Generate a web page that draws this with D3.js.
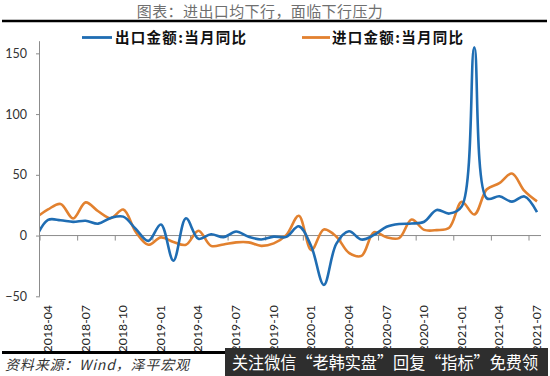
<!DOCTYPE html>
<html>
<head>
<meta charset="utf-8">
<script src="https://cdn.jsdelivr.net/npm/d3@7"></script>
<style>
  html, body { margin: 0; padding: 0; background: #fff; }
  svg { display: block; }
</style>
</head>
<body>
<div id="chart"></div>
<script>
// ── Data ─────────────────────────────────────────────────────────────
const months = [
  '2018-03','2018-04','2018-05','2018-06','2018-07','2018-08','2018-09','2018-10','2018-11','2018-12',
  '2019-01','2019-02','2019-03','2019-04','2019-05','2019-06','2019-07','2019-08','2019-09','2019-10','2019-11','2019-12',
  '2020-01','2020-02','2020-03','2020-04','2020-05','2020-06','2020-07','2020-08','2020-09','2020-10','2020-11','2020-12',
  '2021-01','2021-02','2021-03','2021-04','2021-05','2021-06','2021-07'
];
const exportYoY = [
  -2.7, 12.9, 12.6, 11.3, 12.2, 9.8, 14.5, 15.6, 5.4, -4.4,
  9.1, -20.7, 14.2, -2.7, 1.1, -1.3, 3.3, -1.0, -3.2, -0.9, -1.1, 7.6,
  -9, -40.6, -6.6, 3.5, -3.3, 0.5, 7.2, 9.5, 9.9, 11.4, 21.1, 18.1,
  24, 154.9, 30.6, 32.3, 27.9, 32.2, 19.3
];
const importYoY = [
  14.4, 21.5, 26.0, 14.1, 27.3, 20.0, 14.3, 21.4, 3.0, -7.6,
  -1.5, -5.2, -7.6, 4.0, -8.5, -7.3, -5.6, -5.6, -8.5, -6.4, 0.3, 16.3,
  -12, 5, -0.9, -14.2, -16.7, 2.7, -1.4, -2.1, 13.2, 4.7, 4.5, 6.5,
  27.8, 17.3, 38.1, 43.1, 51.1, 36.7, 28.1
];
const xLabels = ['2018-04','2018-07','2018-10','2019-01','2019-04','2019-07','2019-10',
                 '2020-01','2020-04','2020-07','2020-10','2021-01','2021-04','2021-07'];
const yTicks  = [-50, 0, 50, 100, 150];
const seriesNames = ['出口金额:当月同比', '进口金额:当月同比'];

const W = 550, H = 376;
const BLUE = '#1f6db3', ORANGE = '#e2812f', AXIS = '#8c8c8c';

const svg = d3.select('#chart').append('svg')
  .attr('width', W).attr('height', H);

// ── Scales ───────────────────────────────────────────────────────────
// the axis starts a bit after 2018-03, so the first segment is clipped
const x = d3.scalePoint().domain(months).range([35.5, 537]);
const y = d3.scaleLinear().domain([-50, 160]).range([296.3, 41.2]);
const plotL = 40, plotR = 541;

// ── Title ────────────────────────────────────────────────────────────
svg.append('text')
  .attr('x', 260).attr('y', 17)
  .attr('text-anchor', 'middle')
  .attr('font-family', '"Noto Sans CJK SC", sans-serif')
  .attr('font-size', 15).attr('fill', '#6f6f6f')
  .attr('letter-spacing', 0.4)
  .text('图表：进出口均下行，面临下行压力');

svg.append('line')
  .attr('x1', 2).attr('x2', 547).attr('y1', 21).attr('y2', 21)
  .attr('stroke', '#000').attr('stroke-width', 2.6);

// ── Legend ───────────────────────────────────────────────────────────
const legend = svg.append('g').attr('font-family', '"Noto Sans CJK SC", sans-serif');
[[82, 112, 115, BLUE], [302, 330, 332, ORANGE]].forEach(([a, b, tx, c], i) => {
  legend.append('line')
    .attr('x1', a).attr('x2', b).attr('y1', 37.5).attr('y2', 37.5)
    .attr('stroke', c).attr('stroke-width', 2.8);
  legend.append('text')
    .attr('x', tx).attr('y', 43)
    .attr('font-size', 14.5).attr('font-weight', 700).attr('fill', '#111')
    .attr('textLength', 131).attr('lengthAdjust', 'spacing')
    .text(seriesNames[i]);
});

// ── Axes ─────────────────────────────────────────────────────────────
const yAxis = svg.append('g')
  .attr('transform', `translate(${plotL},0)`)
  .call(d3.axisLeft(y).tickValues(yTicks).tickSize(4).tickPadding(9));
yAxis.select('.domain').attr('stroke', AXIS).attr('d', `M-0.5,${y(160)}V${y(-50)}`);
yAxis.selectAll('.tick line').attr('stroke', AXIS);
yAxis.selectAll('.tick text')
  .attr('font-family', 'Lato, sans-serif').attr('font-size', 12.5).attr('fill', '#333');

// x axis sits on the zero line; tick marks fall just left of each label
const xAxis = svg.append('g');
xAxis.append('line')
  .attr('x1', plotL).attr('x2', plotR)
  .attr('y1', y(0)).attr('y2', y(0))
  .attr('stroke', AXIS).attr('stroke-width', 1);
xAxis.selectAll('line.tk')
  .data(xLabels)
  .join('line')
    .attr('class', 'tk')
    .attr('x1', d => x(d) - 8).attr('x2', d => x(d) - 8)
    .attr('y1', y(0)).attr('y2', y(0) + 5)
    .attr('stroke', AXIS);
xAxis.selectAll('text')
  .data(xLabels)
  .join('text')
    .attr('transform', d => `translate(${x(d) + 4},305) rotate(-90)`)
    .attr('text-anchor', 'end')
    .attr('font-family', 'Lato, sans-serif').attr('font-size', 12.3).attr('fill', '#222')
    .text(d => d);

// ── Lines ────────────────────────────────────────────────────────────
svg.append('clipPath').attr('id', 'plot-clip')
  .append('rect').attr('x', plotL).attr('y', 0).attr('width', plotR - plotL).attr('height', 340);

const line = d3.line()
  .x((d, i) => x(months[i]))
  .y(d => y(d))
  .curve(d3.curveCatmullRom.alpha(0.5));

const plot = svg.append('g').attr('clip-path', 'url(#plot-clip)');
plot.append('path').datum(importYoY)
  .attr('d', line).attr('fill', 'none')
  .attr('stroke', ORANGE).attr('stroke-width', 2.6).attr('stroke-linejoin', 'round');
plot.append('path').datum(exportYoY)
  .attr('d', line).attr('fill', 'none')
  .attr('stroke', BLUE).attr('stroke-width', 2.6).attr('stroke-linejoin', 'round');

// ── Footer ───────────────────────────────────────────────────────────
svg.append('line')
  .attr('x1', 2).attr('x2', 547).attr('y1', 352.5).attr('y2', 352.5)
  .attr('stroke', '#000').attr('stroke-width', 2.8);

svg.append('text')
  .attr('x', 5).attr('y', 370)
  .attr('font-family', '"Noto Sans CJK SC", sans-serif')
  .attr('font-size', 14).attr('font-style', 'italic').attr('fill', '#333')
  .attr('textLength', 184).attr('lengthAdjust', 'spacing')
  .text('资料来源：Wind，泽平宏观');

svg.append('rect')
  .attr('x', 225).attr('y', 348).attr('width', 323).attr('height', 28)
  .attr('fill', '#2e2e2e');
svg.append('text')
  .attr('x', 232).attr('y', 369)
  .attr('font-family', '"Noto Sans CJK SC", sans-serif')
  .attr('font-size', 16.5).attr('fill', '#fff')
  .attr('textLength', 306).attr('lengthAdjust', 'spacingAndGlyphs')
  .text('关注微信“老韩实盘”回复“指标”免费领');
</script>
</body>
</html>
